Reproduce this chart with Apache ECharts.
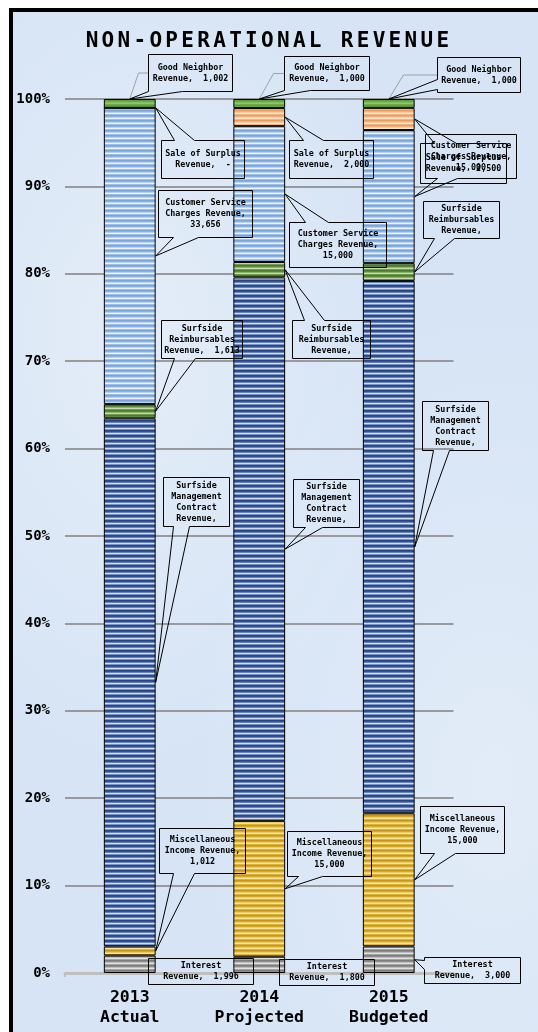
<!DOCTYPE html>
<html><head><meta charset="utf-8">
<script src="https://cdn.jsdelivr.net/npm/echarts@6/dist/echarts.min.js"></script>
<style>
html,body{margin:0;padding:0;background:#fff;overflow:hidden}
#wrap{position:relative;width:538px;height:1032px;overflow:hidden;background:#fff}
#frame{position:absolute;left:9px;top:8px;width:600px;height:1100px;border:4px solid #000;
  background:#d6e4f5;
  background-image:radial-gradient(ellipse at 20% 30%, rgba(255,255,255,0.35), rgba(255,255,255,0) 40%),
                   radial-gradient(ellipse at 80% 70%, rgba(255,255,255,0.3), rgba(255,255,255,0) 45%);}
#chart{position:absolute;left:0;top:0;width:538px;height:1032px}
</style></head><body>
<div id="wrap"><div id="frame"></div><div id="chart"></div></div>
<script>
// ---------- DATA ----------
const years = ['2013', '2014', '2015'];
const scenarios = ['Actual', 'Projected', 'Budgeted'];
const interestRevenue        = [1996, 1800, 3000];
const miscIncomeRevenue      = [1012, 15000, 15000];
const mgmtContractRevenue    = [60000, 60000, 60000];
const reimbursablesRevenue   = [1613, 1700, 2000];
const customerServiceRevenue = [33656, 15000, 15000];
const surplusSaleRevenue     = [0, 2000, 2500];
const goodNeighborRevenue    = [1002, 1000, 1000];
const yTickValues = [0, 10, 20, 30, 40, 50, 60, 70, 80, 90, 100];
const chartTitle = 'NON-OPERATIONAL REVENUE';

// label text templates (series bottom -> top)
const seriesInfo = [
  {name: 'Interest Revenue', values: interestRevenue, lines: ['Interest', 'Revenue, {v}']},
  {name: 'Miscellaneous Income Revenue', values: miscIncomeRevenue, lines: ['Miscellaneous', 'Income Revenue,', '{v}']},
  {name: 'Surfside Management Contract Revenue', values: mgmtContractRevenue, lines: ['Surfside', 'Management', 'Contract', 'Revenue, {v}']},
  {name: 'Surfside Reimbursables Revenue', values: reimbursablesRevenue, lines: ['Surfside', 'Reimbursables', 'Revenue, {v}']},
  {name: 'Customer Service Charges Revenue', values: customerServiceRevenue, lines: ['Customer Service', 'Charges Revenue,', '{v}']},
  {name: 'Sale of Surplus Revenue', values: surplusSaleRevenue, lines: ['Sale of Surplus', 'Revenue, {v}']},
  {name: 'Good Neighbor Revenue', values: goodNeighborRevenue, lines: ['Good Neighbor', 'Revenue, {v}']}
];

// ---------- STYLE / LAYOUT ----------
const MONO = '"DejaVu Sans Mono", "Liberation Mono", monospace';
const TITLE_SPACING = '3.3px';
const stripeColors = [
  ['#7c7c7c', '#8e8e8e', '#bcbcbc', '#e2e2e2', '#a3a3a3'],
  ['#c69616', '#d6a927', '#eccb68', '#f8e5a4', '#dcb23c'],
  ['#27468a', '#324f8e', '#6884bb', '#d3ddf0', '#7893c7'],
  ['#4d7830', '#5c883b', '#8bb46b', '#c4dcae', '#719a50'],
  ['#78a4da', '#8ab2e2', '#bad2ef', '#eef4fb', '#9ebfe7'],
  ['#ef9c5a', '#f4b07a', '#f8cda6', '#fde8d6', '#f2b37f'],
  ['#5f9d3a', '#6cab44', '#80bb5e', '#8fc56f', '#70ad47']
];
// callout boxes relative to the anchor: dx, dy, w, h, wedge side, wedge base t1..t2, showValue, leader stub
const calloutLayout = [
  [ {dx:-8, dy:-6, w:105, h:26, side:null, sv:true},
    {dx:-6, dy:-6, w:95, h:26, side:null, sv:true},
    {dx:9, dy:-3, w:96, h:26, side:'left', t1:3, t2:12, sv:true} ],
  [ {dx:3, dy:-123, w:86, h:45, side:'bottom', t1:14, t2:35, sv:true},
    {dx:2, dy:-58, w:84, h:45, side:'bottom', t1:11, t2:35, sv:true},
    {dx:5, dy:-74, w:84, h:47, side:'bottom', t1:14, t2:35, sv:true} ],
  [ {dx:7, dy:-205, w:66, h:49, side:'bottom', t1:10, t2:26, sv:false},
    {dx:8, dy:-70, w:66, h:48, side:'bottom', t1:12, t2:29, sv:false},
    {dx:7, dy:-146, w:66, h:49, side:'bottom', t1:11, t2:27, sv:false} ],
  [ {dx:5, dy:-91, w:81, h:38, side:'bottom', t1:13, t2:34, sv:true},
    {dx:7, dy:50, w:78, h:38, side:'top', t1:12, t2:32, sv:false},
    {dx:8, dy:-71, w:76, h:37, side:'bottom', t1:11, t2:31, sv:false} ],
  [ {dx:2, dy:-66, w:94, h:47, side:'bottom', t1:15, t2:40, sv:true},
    {dx:4, dy:28, w:97, h:45, side:'top', t1:16, t2:39, sv:true},
    {dx:10, dy:-63, w:91, h:44, side:'bottom', t1:12, t2:32, sv:true} ],
  [ {dx:5, dy:32, w:83, h:38, side:'top', t1:13, t2:33, sv:true},
    {dx:4, dy:23, w:84, h:38, side:'top', t1:14, t2:34, sv:true},
    {dx:5, dy:24, w:86, h:40, side:'top', t1:14, t2:36, sv:true} ],
  [ {dx:18, dy:-45, w:84, h:37, side:'bottom', t1:0, t2:34, sv:true, stub:10},
    {dx:25, dy:-43, w:85, h:34, side:'bottom', t1:0, t2:26, sv:true, stub:11},
    {dx:48, dy:-42, w:83, h:35, side:'left', t1:22, t2:32, sv:true, stub:34} ]
];

// spaced-out title lettering (canvas letterSpacing, applied only to the title string)
(function () {
  const proto = CanvasRenderingContext2D.prototype;
  const orig = proto.fillText;
  proto.fillText = function (t, x, y, mw) {
    const has = ('letterSpacing' in this);
    if (t === chartTitle && has) {
      this.save();
      this.letterSpacing = TITLE_SPACING;
      orig.call(this, t, x, y);
      this.restore();
      this.letterSpacing = '0px';
      return;
    }
    if (has && this.letterSpacing !== '0px') this.letterSpacing = '0px';
    return mw === undefined ? orig.call(this, t, x, y) : orig.call(this, t, x, y, mw);
  };
})();

function stripes(cols) {
  const c = document.createElement('canvas');
  c.width = 8; c.height = cols.length;
  const ctx = c.getContext('2d');
  cols.forEach((col, i) => { ctx.fillStyle = col; ctx.fillRect(0, i, 8, 1); });
  return {image: c, repeat: 'repeat'};
}
function acct(v) { return v === 0 ? ' -' : ' ' + v.toLocaleString('en-US'); }

const totals = years.map((_, i) => seriesInfo.reduce((s, si) => s + si.values[i], 0));
const pct = seriesInfo.map(si => si.values.map((v, i) => v / totals[i] * 100));

const chart = echarts.init(document.getElementById('chart'), null, {renderer: 'canvas'});
const option = {
  animation: false,
  backgroundColor: 'transparent',
  title: {
    text: chartTitle, left: 'center', top: 29, padding: 0,
    textStyle: {fontFamily: MONO, fontWeight: 'bold', fontSize: 21, lineHeight: 26, color: '#000'}
  },
  grid: {left: 65, right: 84.5, top: 99, bottom: 59},
  xAxis: {
    type: 'category',
    data: years.map((y, i) => y + '\n' + scenarios[i]),
    axisLine: {lineStyle: {color: '#bfbfbf', width: 3}},
    axisTick: {show: true, length: 4, lineStyle: {color: '#bfbfbf', width: 2}},
    axisLabel: {fontFamily: MONO, fontWeight: 'bold', fontSize: 16.5, lineHeight: 20, color: '#000', margin: 15}
  },
  yAxis: {
    type: 'value', min: yTickValues[0], max: yTickValues[yTickValues.length - 1],
    interval: yTickValues[1] - yTickValues[0],
    axisLine: {show: false}, axisTick: {show: false},
    axisLabel: {formatter: '{value}%', fontFamily: MONO, fontWeight: 'bold', fontSize: 14, color: '#000', margin: 15},
    splitLine: {lineStyle: {color: '#808080', width: 1.5}}
  },
  series: seriesInfo.map((si, k) => ({
    name: si.name, type: 'bar', stack: 'total', barWidth: '40%',
    data: pct[k],
    itemStyle: {color: stripes(stripeColors[k]), borderColor: '#000', borderWidth: 1},
    emphasis: {disabled: true}
  }))
};
chart.setOption(option);

// ---------- CALLOUTS ----------
function calloutPoints(x, y, w, h, side, t1, t2, ax, ay) {
  const x1 = x + w, y1 = y + h, pts = [[x, y]];
  if (side === 'top') pts.push([x + t1, y], [ax, ay], [x + t2, y]);
  pts.push([x1, y]);
  if (side === 'right') pts.push([x1, y + t1], [ax, ay], [x1, y + t2]);
  pts.push([x1, y1]);
  if (side === 'bottom') pts.push([x + t2, y1], [ax, ay], [x + t1, y1]);
  pts.push([x, y1]);
  if (side === 'left') pts.push([x, y + t2], [ax, ay], [x, y + t1]);
  return pts;
}
const c0 = chart.convertToPixel({gridIndex: 0}, [0, 0]);
const c1 = chart.convertToPixel({gridIndex: 0}, [1, 0]);
const halfBar = (c1[0] - c0[0]) * 0.4 / 2;
const elements = [];
const gnIndex = seriesInfo.length - 1;
years.forEach((_, i) => {
  let base = 0;
  seriesInfo.forEach((si, k) => {
    const p = pct[k][i];
    let ax, ay;
    if (k === gnIndex) {
      const pt = chart.convertToPixel({gridIndex: 0}, [i, base + p]);
      ax = pt[0]; ay = pt[1];
    } else {
      const pt = chart.convertToPixel({gridIndex: 0}, [i, base + p / 2]);
      ax = pt[0] + halfBar; ay = pt[1];
    }
    base += p;
    const L = calloutLayout[k][i];
    const bx = Math.round(ax + L.dx) + 0.5, by = Math.round(ay + L.dy) + 0.5;
    const txt = si.lines.map(s => s.replace(' {v}', L.sv ? ' ' + acct(si.values[i]) : '')
                                   .replace('{v}', L.sv ? acct(si.values[i]).trim() : '')).join('\n');
    if (L.stub) {
      elements.push({type: 'polyline', z: 100, silent: true,
        shape: {points: [[bx, by + L.h / 2], [bx - L.stub, by + L.h / 2], [ax, ay]]},
        style: {stroke: '#a0a0a0', lineWidth: 1, fill: null}});
    }
    elements.push({type: 'polygon', z: 101, silent: true,
      shape: {points: calloutPoints(bx, by, L.w, L.h, L.side, L.t1 || 0, L.t2 || 0, ax, ay)},
      style: {fill: 'rgba(0,0,0,0)', stroke: '#000', lineWidth: 1}});
    elements.push({type: 'text', z: 102, silent: true,
      style: {text: txt, x: bx + L.w / 2, y: by + L.h / 2,
        textAlign: 'center', textVerticalAlign: 'middle', align: 'center', verticalAlign: 'middle',
        font: 'bold 8.4px ' + MONO, fontFamily: MONO, fontSize: 8.4, fontWeight: 'bold',
        lineHeight: 11, fill: '#000'}});
  });
});
chart.setOption({graphic: {elements: elements}});
</script></body></html>
